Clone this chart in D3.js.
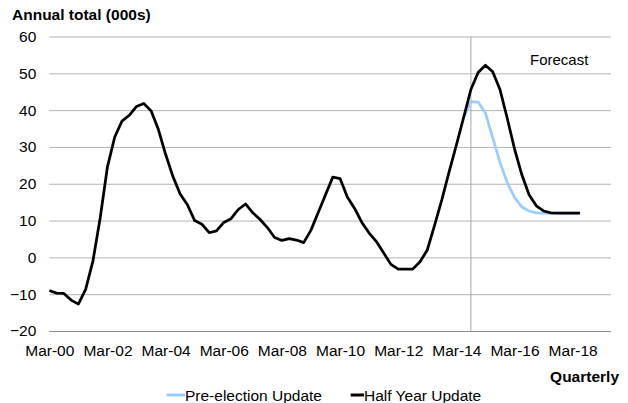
<!DOCTYPE html>
<html>
<head>
<meta charset="utf-8">
<script src="https://cdn.jsdelivr.net/npm/d3@7/dist/d3.min.js"></script>
<style>
  html, body { margin: 0; padding: 0; background: #fff; }
  svg { display: block; font-family: "Liberation Sans", Arial, sans-serif; }
</style>
</head>
<body>
<svg id="chart" width="628" height="403"></svg>
<script>
// Quarterly categories, Mar-00 .. Jun-19
const quarters = [
  "Mar-00","Jun-00","Sep-00","Dec-00","Mar-01","Jun-01","Sep-01","Dec-01",
  "Mar-02","Jun-02","Sep-02","Dec-02","Mar-03","Jun-03","Sep-03","Dec-03",
  "Mar-04","Jun-04","Sep-04","Dec-04","Mar-05","Jun-05","Sep-05","Dec-05",
  "Mar-06","Jun-06","Sep-06","Dec-06","Mar-07","Jun-07","Sep-07","Dec-07",
  "Mar-08","Jun-08","Sep-08","Dec-08","Mar-09","Jun-09","Sep-09","Dec-09",
  "Mar-10","Jun-10","Sep-10","Dec-10","Mar-11","Jun-11","Sep-11","Dec-11",
  "Mar-12","Jun-12","Sep-12","Dec-12","Mar-13","Jun-13","Sep-13","Dec-13",
  "Mar-14","Jun-14","Sep-14","Dec-14","Mar-15","Jun-15","Sep-15","Dec-15",
  "Mar-16","Jun-16","Sep-16","Dec-16","Mar-17","Jun-17","Sep-17","Dec-17",
  "Mar-18","Jun-18","Sep-18","Dec-18","Mar-19","Jun-19"
];

// Half Year Update, annual total (000s), from Mar-00
const halfYearUpdate = [
  -9.0, -9.7, -9.8, -11.6, -12.7, -8.7, -1.0, 10.7,
  24.6, 32.7, 37.0, 38.6, 41.0, 41.8, 39.8, 34.8,
  28.0, 22.0, 17.2, 14.3, 10.0, 9.0, 6.7, 7.2,
  9.5, 10.5, 13.0, 14.5, 12.1, 10.3, 8.1, 5.4,
  4.6, 5.1, 4.7, 4.0, 7.4, 12.2, 17.0, 21.8,
  21.4, 16.4, 13.3, 9.5, 6.6, 4.3, 1.2, -1.9,
  -3.2, -3.2, -3.2, -1.2, 2.0, 8.7, 15.6, 23.2,
  30.5, 38.0, 45.6, 50.2, 52.2, 50.4, 45.6, 37.8,
  29.5, 22.5, 17.0, 14.0, 12.6, 12.1, 12.0, 12.0,
  12.0, 12.0
];

// Pre-election Update, from the quarter where it departs from the Half Year Update
const preElectionStart = "Jun-14";
const preElectionUpdate = [
  38.0, 42.3, 42.2, 39.2, 32.5, 25.8, 20.3, 16.3,
  13.7, 12.6, 12.1, 12.0, 12.0, 12.0, 12.0, 12.0,
  12.0
];

const yTicks = [-20, -10, 0, 10, 20, 30, 40, 50, 60];
const xTickLabels = ["Mar-00","Mar-02","Mar-04","Mar-06","Mar-08","Mar-10","Mar-12","Mar-14","Mar-16","Mar-18"];
const forecastFrom = "Sep-14";

const seriesNames = ["Pre-election Update", "Half Year Update"];
const seriesColors = ["#99ccff", "#000000"];

const svg = d3.select("#chart");
const plot = { left: 49.3, right: 611, top: 36.5, bottom: 331 };
const FONT = 15.5;

const x = d3.scalePoint().domain(quarters).range([plot.left, 609]);
const y = d3.scaleLinear().domain([-20, 60]).range([plot.bottom, plot.top]);

// Horizontal gridlines and value labels
const yAxis = svg.append("g")
  .attr("transform", `translate(${plot.left},0)`)
  .call(d3.axisLeft(y).tickValues(yTicks).tickSizeInner(-(plot.right - plot.left)).tickSizeOuter(0).tickPadding(13));
yAxis.select(".domain").remove();
yAxis.selectAll(".tick line").attr("stroke", "#b3b3b3").attr("stroke-width", 1)
  .attr("stroke", d => d === -20 ? "#8c8c8c" : "#b3b3b3");
yAxis.selectAll(".tick text").attr("font-size", FONT).attr("fill", "#000")
  .attr("font-family", "Liberation Sans, Arial, sans-serif");

// Forecast divider
svg.append("line")
  .attr("x1", x(forecastFrom)).attr("x2", x(forecastFrom))
  .attr("y1", y(60)).attr("y2", y(-20))
  .attr("stroke", "#a6a6a6").attr("stroke-width", 1);

// Category axis labels
const xAxis = svg.append("g")
  .attr("transform", `translate(0,${plot.bottom})`)
  .call(d3.axisBottom(x).tickValues(xTickLabels).tickSize(0).tickPadding(14));
xAxis.select(".domain").remove();
xAxis.selectAll(".tick text").attr("font-size", FONT).attr("fill", "#000")
  .attr("font-family", "Liberation Sans, Arial, sans-serif");

// Series lines
const line = d3.line().x(d => x(d[0])).y(d => y(d[1]));
const startIdx = quarters.indexOf(preElectionStart);
const preData = preElectionUpdate.map((v, i) => [quarters[startIdx + i], v]);
const halfData = halfYearUpdate.map((v, i) => [quarters[i], v]);

svg.append("path").datum(preData)
  .attr("d", line).attr("fill", "none")
  .attr("stroke", seriesColors[0]).attr("stroke-width", 2.75)
  .attr("stroke-linejoin", "round");
svg.append("path").datum(halfData)
  .attr("d", line).attr("fill", "none")
  .attr("stroke", seriesColors[1]).attr("stroke-width", 2.75)
  .attr("stroke-linejoin", "round");

// Titles and annotations
svg.append("text").attr("x", 12).attr("y", 20)
  .attr("font-size", FONT).attr("font-weight", "bold").text("Annual total (000s)");
svg.append("text").attr("x", 619).attr("y", 382).attr("text-anchor", "end")
  .attr("font-size", FONT).attr("font-weight", "bold").text("Quarterly");
svg.append("text").attr("x", 530).attr("y", 65)
  .attr("font-size", FONT - 0.5).text("Forecast");

// Legend
const legendItems = [
  { name: seriesNames[0], color: seriesColors[0], x0: 166.7, x1: 185 },
  { name: seriesNames[1], color: seriesColors[1], x0: 350.7, x1: 364 }
];
const lg = svg.append("g");
legendItems.forEach(it => {
  lg.append("line").attr("x1", it.x0).attr("x2", it.x1).attr("y1", 395).attr("y2", 395)
    .attr("stroke", it.color).attr("stroke-width", 3);
  lg.append("text").attr("x", it.x1).attr("y", 400.5)
    .attr("font-size", FONT).text(it.name);
});
</script>
</body>
</html>
